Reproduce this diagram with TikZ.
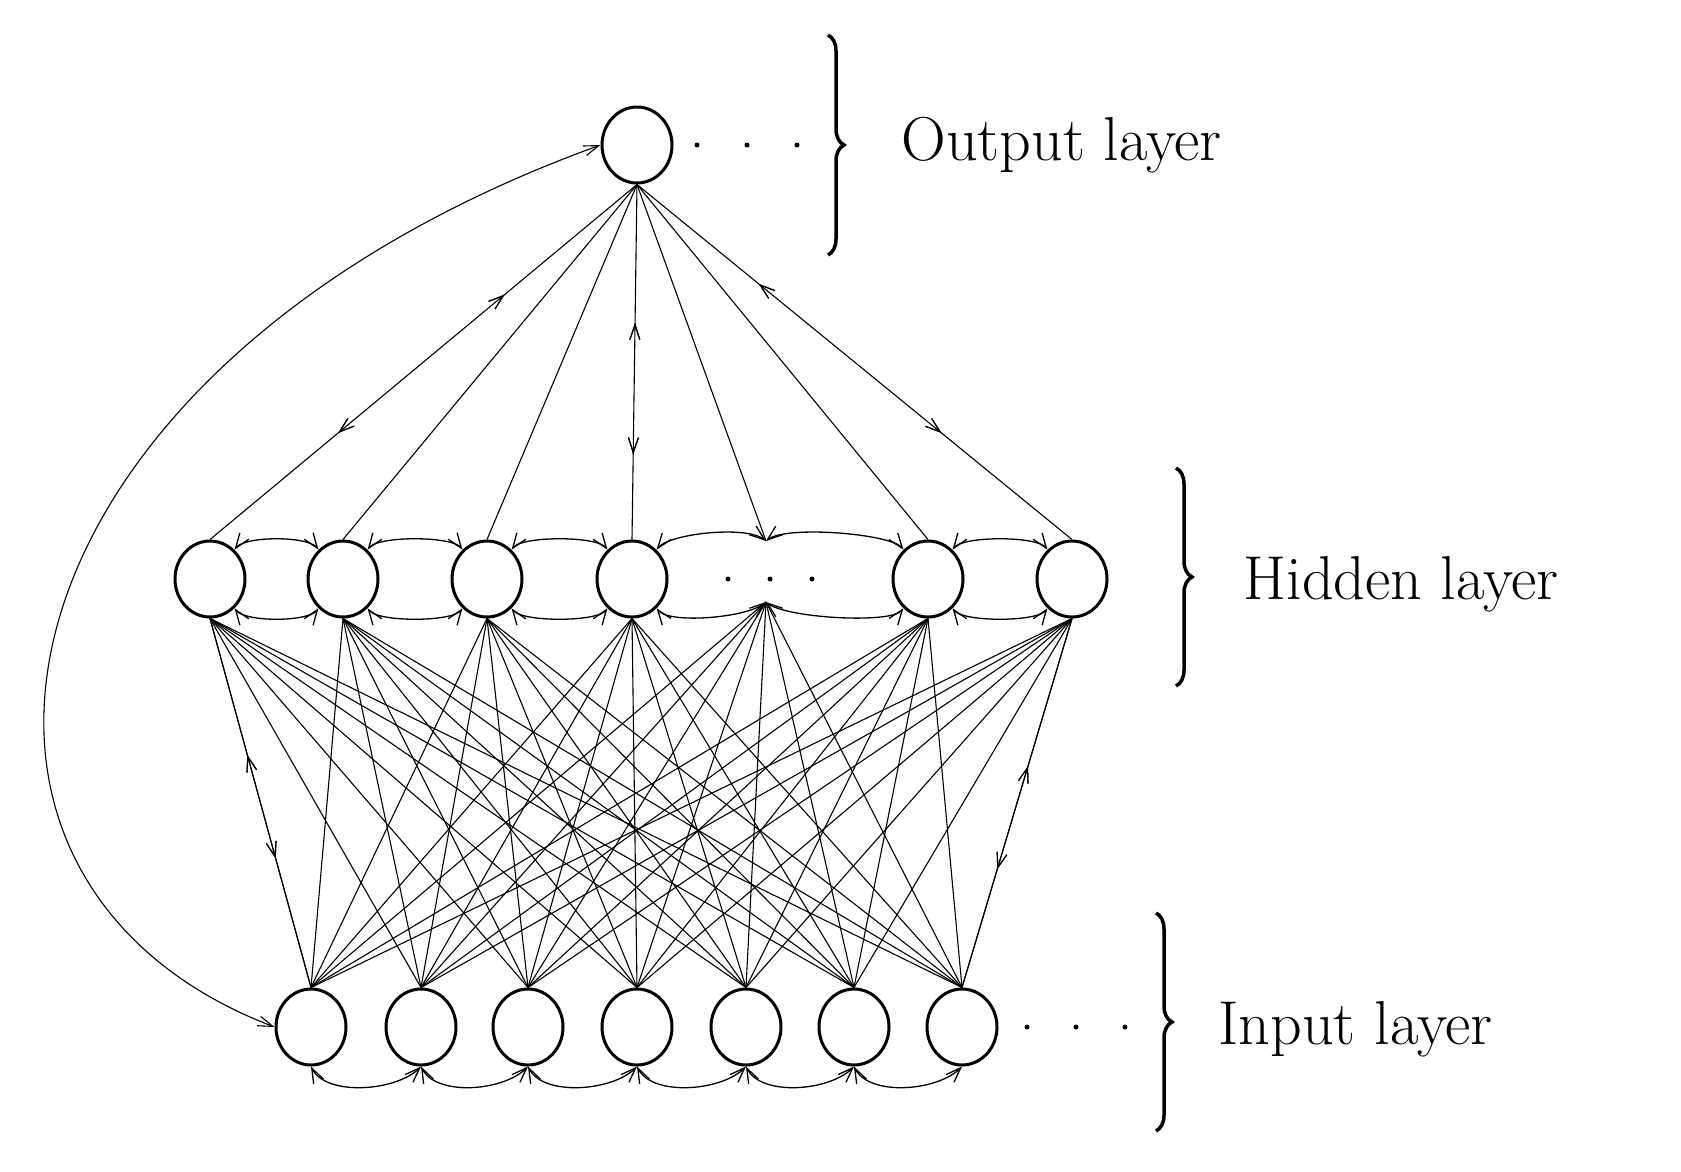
\documentclass[tikz,border=0pt]{standalone}
\usetikzlibrary{shapes.geometric,arrows.meta,decorations.markings,decorations.pathreplacing}
\begin{document}
\begin{tikzpicture}[x=1pt,y=-1pt,
  neuron/.style={ellipse,draw,line width=3pt,minimum width=70pt,minimum height=76pt,inner sep=0pt},
  edge/.style={line width=1.1pt},
  arc/.style={line width=1.3pt,{Straight Barb[length=15pt,width=11pt]}-{Straight Barb[length=15pt,width=11pt]}},
  dn/.style={postaction={decorate},decoration={markings,mark=at position #1 with {\arrow{Straight Barb[length=15pt,width=10pt]}}}},
  up/.style={postaction={decorate},decoration={markings,mark=at position #1 with {\arrowreversed{Straight Barb[length=15pt,width=10pt]}}}},
  dot/.style={circle,fill,inner sep=0pt,minimum size=5pt},
  lab/.style={anchor=west,font=\fontsize{62}{70}\selectfont},
  brace/.style={decorate,decoration={brace,amplitude=16pt},line width=3.5pt}]
\useasboundingbox (0,0) rectangle (1681,1171);
% nodes
\node[neuron] (o) at (637,145) {};
\foreach \i/\x in {1/210,2/343,3/487,4/632,5/928,6/1072} \node[neuron] (h\i) at (\x,579) {};
\foreach \i/\x in {1/311,2/421,3/528,4/637,5/746,6/854,7/962} \node[neuron] (i\i) at (\x,1027) {};
\coordinate (dt) at (766,541);
\coordinate (db) at (766,602);
% dots
\foreach \x [count=\k] in {697,747,797} \node[dot] (od\k) at (\x,145) {};
\foreach \x [count=\k] in {728,770,812} \node[dot] (hd\k) at (\x,579) {};
\foreach \x [count=\k] in {1027,1076,1125} \node[dot] (id\k) at (\x,1027) {};
% braces
\draw[brace] (828,35) -- (828,255);
\draw[brace] (1176,468) -- (1176,686);
\draw[brace] (1156,913) -- (1156,1131);
\node[lab] (lo) at (898,145) {Output layer};
\node[lab] (lh) at (1240,584) {Hidden layer};
\node[lab] (li) at (1215,1029) {Input layer};
% output to hidden
\draw[edge,dn=0.7,up=0.31] (o.south) -- (h1.north);
\draw[edge] (o.south) -- (h2.north);
\draw[edge] (o.south) -- (h3.north);
\draw[edge,dn=0.76,up=0.39] (o.south) -- (h4.north);
\draw[edge] (o.south) -- (dt);
\draw[edge] (o.south) -- (h5.north);
\draw[edge,dn=0.7,up=0.28] (o.south) -- (h6.north);
% hidden to input
\foreach \h in {h1,h2,h3,h4,h5,h6} \foreach \j in {1,...,7} {
  \ifnum\j=1 \ifx\h h1\relax\else\draw[edge] (\h.south) -- (i\j.north);\fi\else
  \ifnum\j=7 \ifx\h h6\relax\else\draw[edge] (\h.south) -- (i\j.north);\fi\else
  \draw[edge] (\h.south) -- (i\j.north);\fi\fi }
\foreach \j in {1,...,7} \draw[edge] (db) -- (i\j.north);
\draw[edge,up=0.37,dn=0.65] (h1.south) -- (i1.north);
\draw[edge,up=0.4,dn=0.68] (h6.south) -- (i7.north);
% hidden arcs
\foreach \a/\b in {h1/h2,h2/h3,h3/h4,h5/h6} {
  \draw[arc] (\a.50) .. controls +(10,-14) and +(-10,-14) .. (\b.130);
  \draw[arc] (\b.230) .. controls +(-10,14) and +(10,14) .. (\a.310);
}
\draw[arc] (h4.50) .. controls +(12,-16) and +(-20,-16) .. (dt);
\draw[arc] (dt) .. controls +(20,-16) and +(-12,-16) .. (h5.130);
\draw[arc] (h5.230) .. controls +(-12,16) and +(20,16) .. (db);
\draw[arc] (db) .. controls +(-20,16) and +(12,16) .. (h4.310);
% input arcs
\foreach \a/\b in {i1/i2,i2/i3,i3/i4,i4/i5,i5/i6,i6/i7}
  \draw[arc] (\a.south) .. controls +(15,30) and +(-25,25) .. (\b.south);
% long curve
\draw[edge,{Straight Barb[length=15pt,width=10pt]}-{Straight Barb[length=15pt,width=10pt]}] (o.west) .. controls (-20,370) and (-110,880) .. (i1.west);
\end{tikzpicture}
\end{document}
